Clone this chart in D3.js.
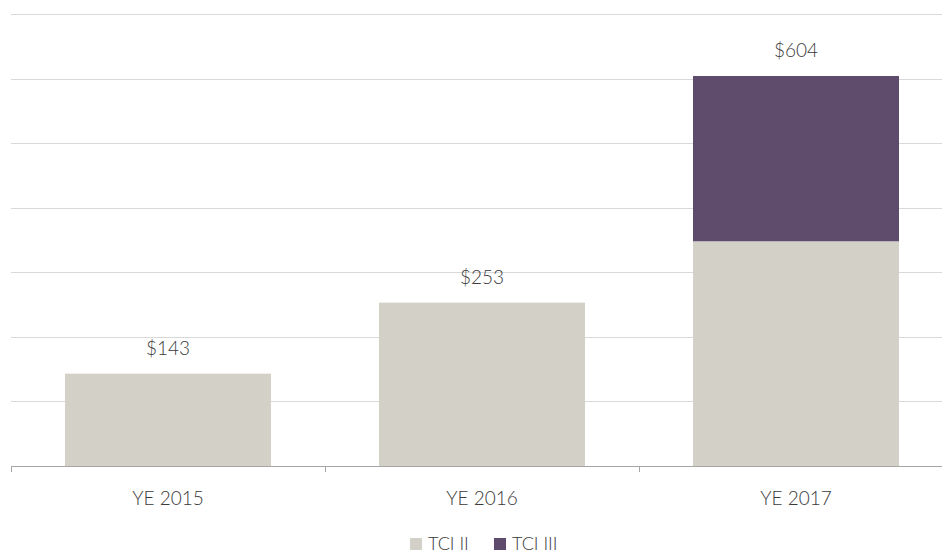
<!DOCTYPE html>
<html>
<head>
<meta charset="utf-8">
<script src="https://cdnjs.cloudflare.com/ajax/libs/d3/7.8.5/d3.min.js"></script>
<style>
  body { margin: 0; background: #fff; }
  svg text { font-family: "Lato", "Open Sans", sans-serif; font-weight: 300; fill: #3a3a3a; }
</style>
</head>
<body>
<div id="chart"></div>
<script>
(function() {

  var years = ["YE 2015", "YE 2016", "YE 2017"];
  var tci2 = [143, 253, 348];
  var tci3 = [0, 0, 256];
  var totals = ["$143", "$253", "$604"];
  var seriesNames = ["TCI II", "TCI III"];
  var gridTicks = [100, 200, 300, 400, 500, 600, 700];

  var width = 942, height = 555;
  var colors = ["#d3d0c7", "#5f4b6b"];

  var svg = d3.select("#chart")
        .append("svg")
        .attr("width", width)
        .attr("height", height);

  var x = d3.scaleBand().domain(years).range([11, 953]).paddingInner(0.344).paddingOuter(0.172);
  var y = d3.scaleLinear().domain([0, 700]).range([466, 14]);

  // gridlines
  svg.append("g")
    .selectAll("line")
    .data(gridTicks)
    .enter().append("line")
    .attr("x1", 11).attr("x2", width)
    .attr("y1", function(d){ return Math.round(y(d)) + 0.5; })
    .attr("y2", function(d){ return Math.round(y(d)) + 0.5; })
    .attr("stroke", "#d9d9d9")
    .attr("stroke-width", 1);

  var rows = years.map(function(yr, i){ return {year: yr, "TCI II": tci2[i], "TCI III": tci3[i]}; });
  var stacked = d3.stack().keys(seriesNames)(rows);

  svg.append("g")
    .selectAll("g")
    .data(stacked)
    .enter().append("g")
    .attr("fill", function(d, i){ return colors[i]; })
    .selectAll("rect")
    .data(function(d){ return d; })
    .enter().append("rect")
    .attr("x", function(d){ return x(d.data.year); })
    .attr("width", x.bandwidth())
    .attr("y", function(d){ return y(d[1]); })
    .attr("height", function(d){ return y(d[0]) - y(d[1]); });

  // x axis
  var axis = svg.append("g");
  axis.append("line")
    .attr("x1", 11).attr("x2", width)
    .attr("y1", 466.5).attr("y2", 466.5)
    .attr("stroke", "#a6a6a6");
  var step = x.step();
  axis.selectAll(".tk")
    .data(d3.range(4))
    .enter().append("line")
    .attr("x1", function(d){ return Math.round(11 + d * step) + 0.5; })
    .attr("x2", function(d){ return Math.round(11 + d * step) + 0.5; })
    .attr("y1", 466).attr("y2", 472)
    .attr("stroke", "#a6a6a6");
  axis.selectAll("text")
    .data(years)
    .enter().append("text")
    .attr("x", function(d){ return x(d) + x.bandwidth() / 2; })
    .attr("y", 505)
    .attr("text-anchor", "middle")
    .style("font-size", "19px")
    .text(function(d){ return d; });

  // totals
  svg.append("g")
    .selectAll("text")
    .data(years)
    .enter().append("text")
    .attr("x", function(d){ return x(d) + x.bandwidth() / 2; })
    .attr("y", function(d, i){ return y(tci2[i] + tci3[i]) - 19; })
    .attr("text-anchor", "middle")
    .style("font-size", "19px")
    .text(function(d, i){ return totals[i]; });

  // legend
  var legend = svg.append("g");
  var lx = [410, 494];
  seriesNames.forEach(function(name, i){
    legend.append("rect")
      .attr("x", lx[i]).attr("y", 538)
      .attr("width", 12).attr("height", 12)
      .attr("fill", colors[i]);
    legend.append("text")
      .attr("x", lx[i] + 18).attr("y", 550)
      .style("font-size", "18px")
      .text(name);
  });

})();
</script>
</body>
</html>
